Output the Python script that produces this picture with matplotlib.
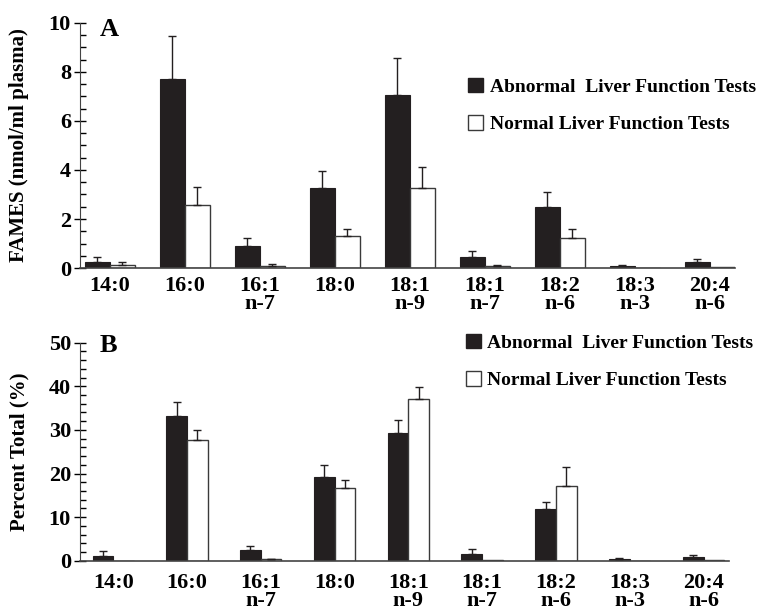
import numpy as np
import matplotlib
matplotlib.use('Agg')
import matplotlib.pyplot as plt
from matplotlib.ticker import MultipleLocator
from matplotlib.patches import Patch

plt.rcParams['font.family'] = ['Liberation Serif', 'DejaVu Serif']
plt.rcParams['font.weight'] = 'bold'

# === DATOS ===
categories = ['14:0', '16:0', '16:1\nn-7', '18:0', '18:1\nn-9',
              '18:1\nn-7', '18:2\nn-6', '18:3\nn-3', '20:4\nn-6']

# Panel A: FAMES (nmol/ml plasma)
abn_conc = [0.25, 7.70, 0.88, 3.25, 7.05, 0.43, 2.48, 0.09, 0.26]
abn_conc_err = [0.20, 1.77, 0.33, 0.70, 1.53, 0.26, 0.61, 0.03, 0.09]
nrm_conc = [0.14, 2.56, 0.08, 1.30, 3.26, 0.08, 1.22, 0.02, 0.05]
nrm_conc_err = [0.09, 0.74, 0.08, 0.31, 0.85, 0.04, 0.37, 0.0, 0.0]

# Panel B: Percent Total (%)
abn_pct = [1.1, 33.3, 2.4, 19.1, 29.4, 1.5, 11.85, 0.3, 0.9]
abn_pct_err = [1.05, 3.2, 1.05, 2.8, 2.8, 1.1, 1.55, 0.3, 0.4]
nrm_pct = [0.0, 27.8, 0.4, 16.7, 37.2, 0.05, 17.1, 0.0, 0.15]
nrm_pct_err = [0.0, 2.2, 0.1, 1.7, 2.6, 0.0, 4.3, 0.0, 0.0]

legend_labels = ['Abnormal  Liver Function Tests', 'Normal Liver Function Tests']

BLACK = '#231f20'
EDGE = '#3a3a3a'

fig = plt.figure(figsize=(7.64, 6.13), dpi=100)
axA = fig.add_axes([0.1047, 0.5628, 0.857, 0.3997])
axB = fig.add_axes([0.1047, 0.0853, 0.849, 0.3556])


def panel(ax, abn, abn_err, nrm, nrm_err, width, ymax, major, minor,
          ylabel, letter, xlim, tickpad, leg_anchor, letter_y):
    x = np.arange(len(categories))
    ax.bar(x - width / 2, abn, width, color=BLACK, edgecolor=BLACK,
           linewidth=0.8, zorder=2)
    ax.bar(x + width / 2, nrm, width, color='white', edgecolor=EDGE,
           linewidth=1.0, zorder=2)
    zeros = np.zeros(len(categories))
    ax.errorbar(x - width / 2, abn, yerr=[zeros, abn_err], fmt='none',
                ecolor=BLACK, elinewidth=1.0, capsize=3, capthick=1.0, zorder=3)
    nrm_mask = np.array(nrm_err) > 0
    ax.errorbar((x + width / 2)[nrm_mask], np.array(nrm)[nrm_mask],
                yerr=[zeros[nrm_mask], np.array(nrm_err)[nrm_mask]], fmt='none',
                ecolor=BLACK, elinewidth=1.0, capsize=3, capthick=1.0, zorder=3)

    ax.set_xlim(*xlim)
    ax.set_ylim(0, ymax)
    ax.set_xticks(x)
    ax.set_xticklabels(categories, fontsize=16, fontweight='bold', linespacing=0.85)
    ax.tick_params(axis='x', length=0, pad=tickpad)
    ax.yaxis.set_major_locator(MultipleLocator(major))
    ax.yaxis.set_minor_locator(MultipleLocator(minor))
    ax.tick_params(axis='y', which='major', direction='inout', length=9,
                   width=1.0, labelsize=16, pad=2)
    ax.tick_params(axis='y', which='minor', direction='in', length=4.5, width=1.0)
    for lab in ax.get_yticklabels():
        lab.set_fontweight('bold')
    ax.spines['top'].set_visible(False)
    ax.spines['right'].set_visible(False)
    ax.spines['left'].set_color('#444444')
    ax.spines['bottom'].set_color('#444444')
    ax.spines['bottom'].set_linewidth(1.2)
    ax.set_ylabel(ylabel, fontsize=15, fontweight='bold')
    ax.yaxis.set_label_coords(-0.078, 0.5)
    ax.text(0.03, letter_y, letter, transform=ax.transAxes, fontsize=19,
            fontweight='bold', va='top', ha='left')

    handles = [Patch(facecolor=BLACK, edgecolor=BLACK),
               Patch(facecolor='white', edgecolor=EDGE, linewidth=1.0)]
    ax.legend(handles, legend_labels, loc='upper left', bbox_to_anchor=leg_anchor,
              frameon=False, handlelength=0.75, handleheight=0.75,
              handletextpad=0.35, labelspacing=1.0, borderpad=0, borderaxespad=0,
              prop={'weight': 'bold', 'size': 14})


panel(axA, abn_conc, abn_conc_err, nrm_conc, nrm_conc_err, 1 / 3, 10, 2, 0.5,
      'FAMES (nmol/ml plasma)', 'A', (-0.4, 8.33), 6, (0.593, 0.775), 1.02)
panel(axB, abn_pct, abn_pct_err, nrm_pct, nrm_pct_err, 0.28, 50, 10, 2,
      'Percent Total (%)', 'B', (-0.45, 8.34), 9, (0.595, 1.04), 1.04)

fig.savefig('out.png', dpi=100)
